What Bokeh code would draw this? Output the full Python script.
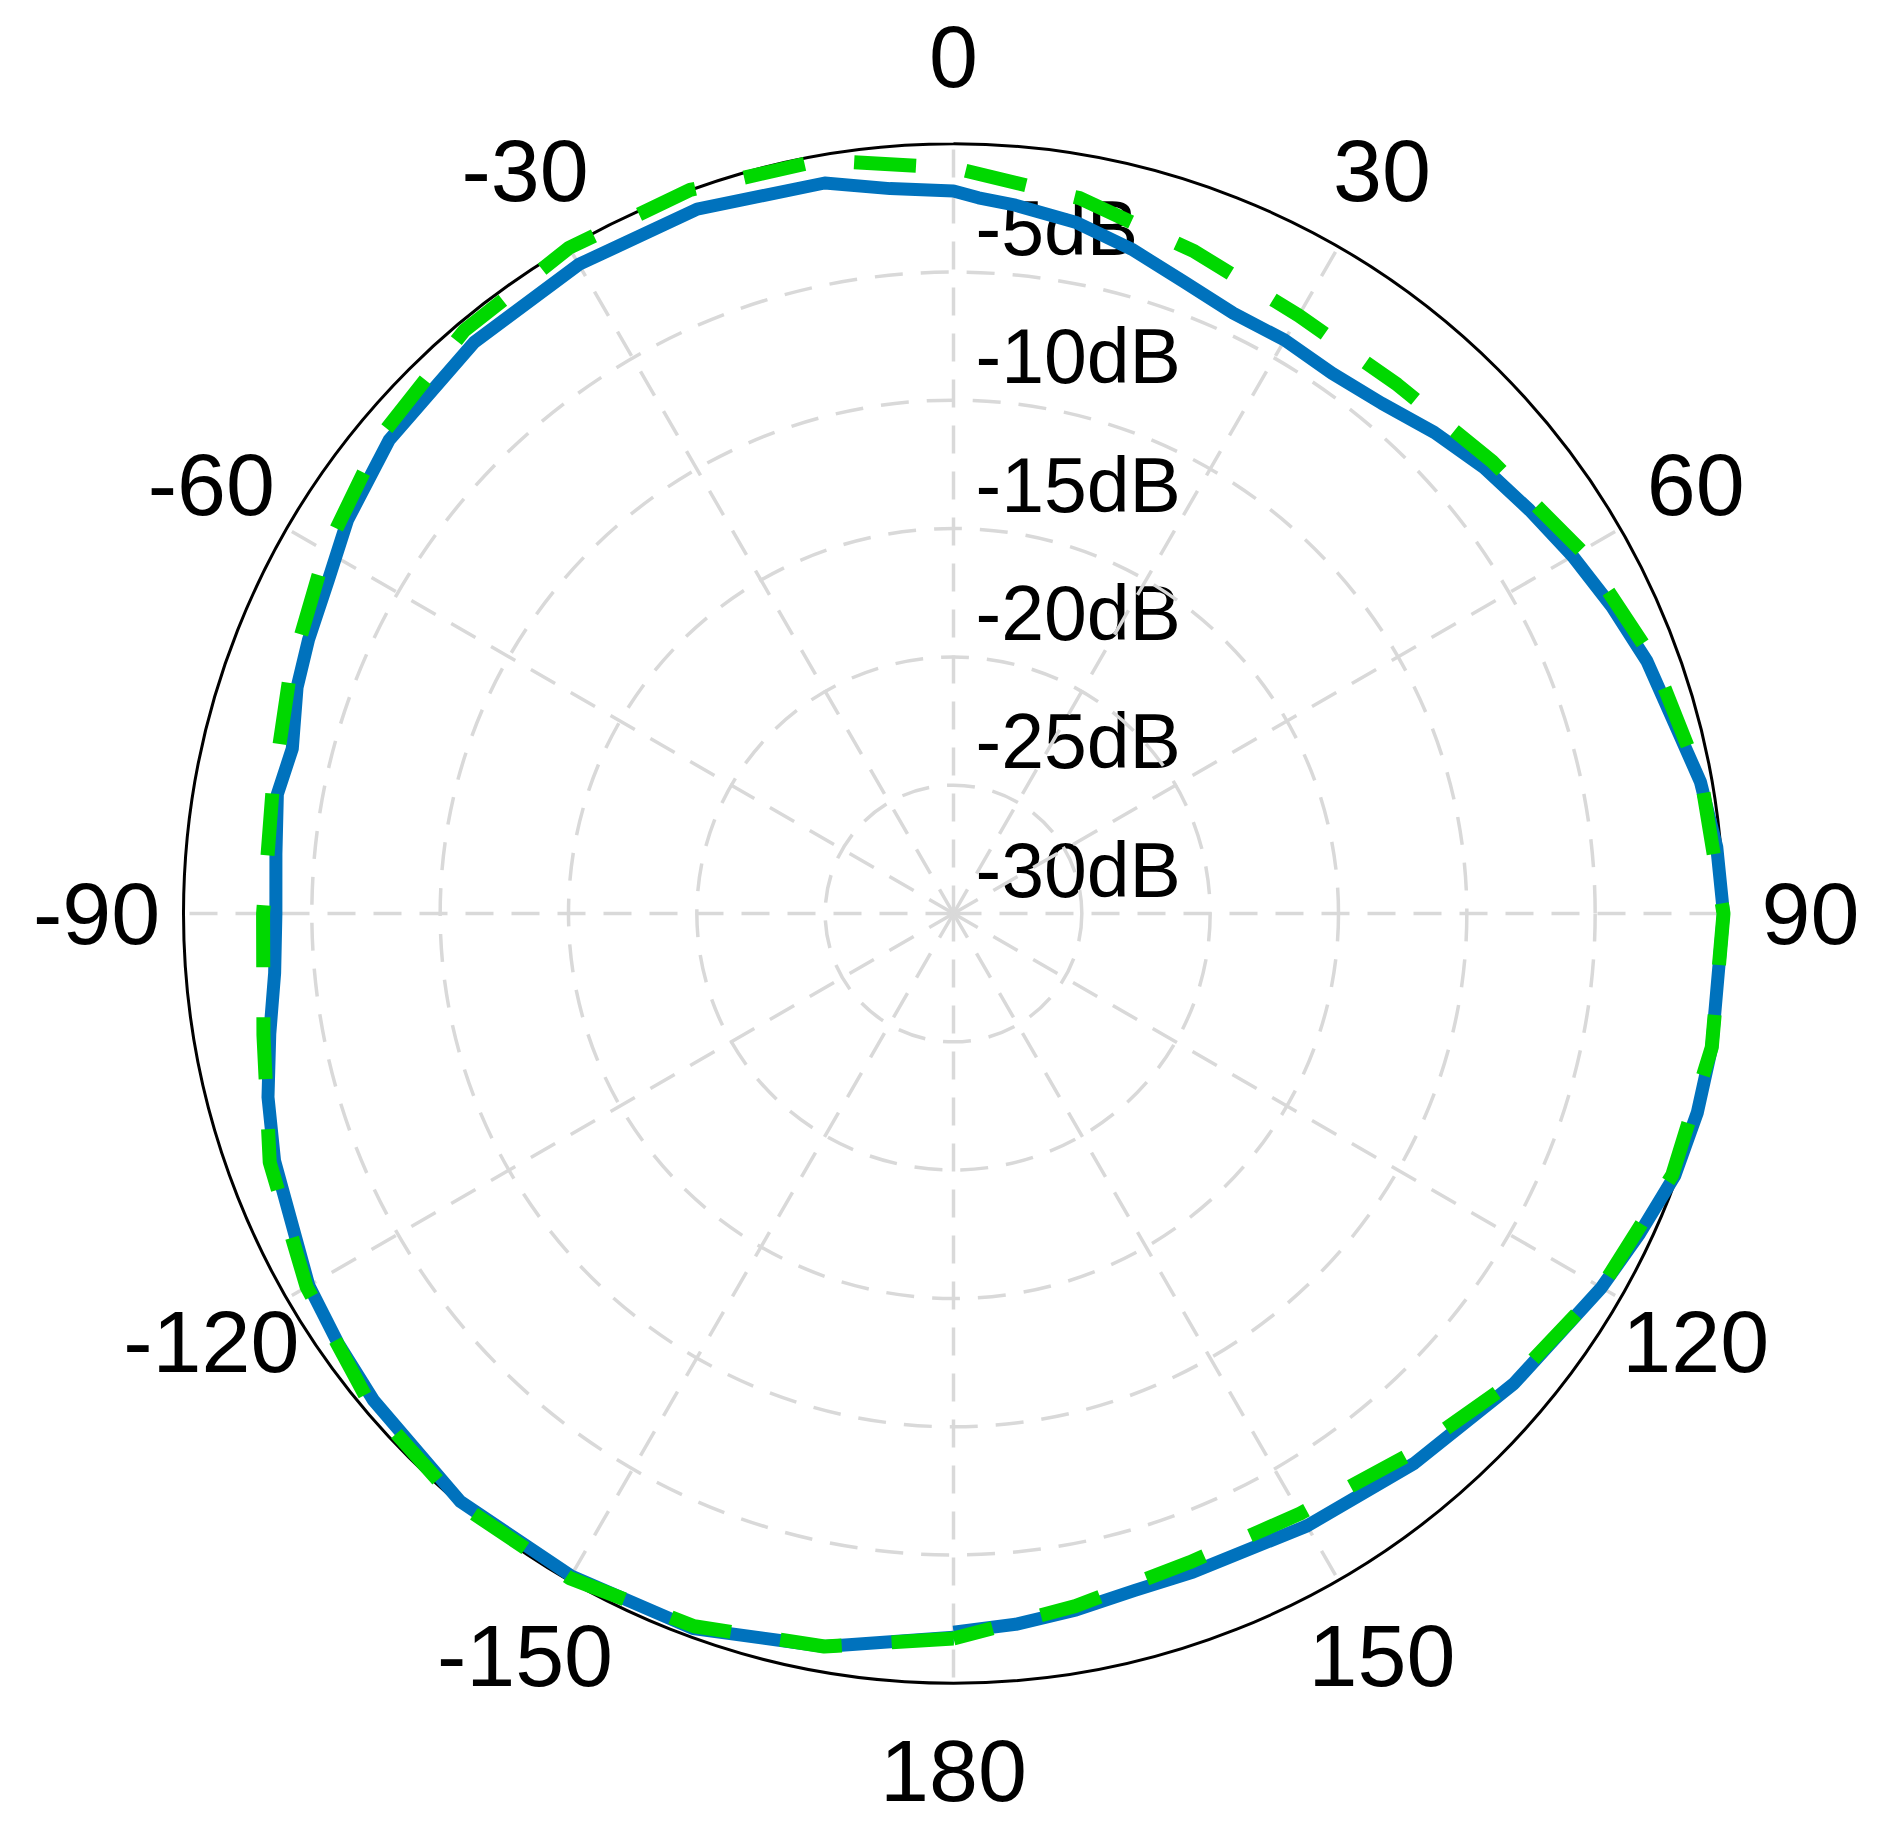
import numpy as np
from bokeh.plotting import figure
from bokeh.models import Range1d, ColumnDataSource
from bokeh.core.properties import value
from bokeh.embed import file_html
from bokeh.resources import INLINE

# ---------------- data ----------------
blue_theta = [-180, -170, -160, -150, -140, -130, -125, -120, -110, -105, -100, -95, -90,
              -85, -80, -76, -71, -67, -62, -57, -50, -40, -30, -20, -10, -5, 0, 2, 5, 10,
              15, 20, 25, 30, 35, 40, 45, 50, 55, 60, 65, 70, 80, 85, 90, 100, 105, 110,
              115, 120, 130, 140, 150, 160, 165, 170, 175, 180]
blue_db = [-1.8, -1.0, -0.35, -0.2, -0.1, -0.5, -0.75, -1.0, -1.85, -2.35, -2.95, -3.45, -3.6,
           -3.5, -3.25, -3.45, -2.95, -2.7, -2.4, -1.85, -1.3, -0.95, -0.8, -0.8, -1.1, -1.65,
           -1.85, -2.1, -2.3, -2.65, -3.2, -3.8, -4.2, -4.2, -4.3, -4.05, -3.5, -3.0, -2.6,
           -2.15, -1.7, -1.25, -0.45, -0.15, 0.0, 0.0, 0.0, -0.1, -0.5, -0.85, -1.5, -2.05,
           -2.45, -2.7, -2.7, -2.45, -2.2, -2.0]

green_theta = [-180, -170, -160, -150, -140, -130, -120, -110, -100, -90, -80, -70, -60,
               -50, -40, -30, -20, -10, 0, 10, 20, 30, 40, 50, 60, 70, 80, 90, 100, 110,
               120, 130, 140, 150, 160, 170, 180]
green_db = [-1.75, -1.0, -0.45, -0.1, 0.0, -0.3, -0.9, -1.65, -2.7, -3.1, -3.05, -2.5, -1.75,
            -0.95, -0.35, -0.05, 0.0, -0.2, -0.95, -1.7, -2.55, -3.1, -3.1, -2.6, -1.75, -1.0,
            -0.4, 0.0, 0.0, -0.2, -0.85, -1.6, -2.45, -3.0, -3.1, -2.6, -1.75]

r_ticks = [-30, -25, -20, -15, -10, -5]
r_tick_labels = ["-30dB", "-25dB", "-20dB", "-15dB", "-10dB", "-5dB"]
theta_ticks = [0, 30, 60, 90, 120, 150, 180, -150, -120, -90, -60, -30]
theta_tick_labels = ["0", "30", "60", "90", "120", "150", "180", "-150", "-120", "-90", "-60", "-30"]
R_MIN, R_MAX = -30, 0

# ---------------- layout ----------------
W, H = 1873, 1831
CX, CY = 953, 913          # centre of the polar axes in canvas pixels
RPIX = 770                 # outer radius in pixels
RSPAN = R_MAX - R_MIN
K = RPIX / RSPAN           # pixels per data unit
FONT = "Liberation Sans"

p = figure(width=W, height=H, output_backend="svg", toolbar_location=None,
           x_range=Range1d(-CX / K, (W - CX) / K),
           y_range=Range1d(-(H - CY) / K, CY / K),
           min_border=0, min_border_left=0, min_border_right=0,
           min_border_top=0, min_border_bottom=0)
p.axis.visible = False
p.grid.visible = False
p.outline_line_color = None
p.background_fill_color = "white"
p.border_fill_color = "white"


def to_xy(theta_deg, db):
    th = np.deg2rad(np.asarray(theta_deg, dtype=float))
    rho = np.asarray(db, dtype=float) - R_MIN
    return rho * np.sin(th), rho * np.cos(th)


# radial tick labels (drawn underneath grid and curves)
lab_src = ColumnDataSource(dict(
    x=[22 / K] * len(r_ticks),
    y=[(t - R_MIN) + 44 / K for t in r_ticks],
    text=r_tick_labels))
p.text(x="x", y="y", text="text", source=lab_src, text_font=value(FONT),
       text_font_size="77px", text_color="black", text_align="left",
       text_baseline="alphabetic")

# grid: rings
GRID = "#d9d9d9"
ring_r = [t - R_MIN for t in r_ticks if t != R_MIN]
p.circle(x=[0] * len(ring_r), y=[0] * len(ring_r), radius=ring_r, fill_color=None,
         line_color=GRID, line_width=3.5, line_dash="28 18")

# grid: spokes
sx, sy = to_xy(theta_ticks, [R_MAX] * len(theta_ticks))
p.segment(x0=[0] * len(sx), y0=[0] * len(sy), x1=list(sx), y1=list(sy),
          line_color=GRID, line_width=3.5, line_dash="28 18")

# outer circle
p.circle(x=[0], y=[0], radius=[RSPAN], fill_color=None, line_color="black", line_width=3)

# theta tick labels
tx, ty = to_xy(theta_ticks, [R_MIN + 857 / K] * len(theta_ticks))
p.text(x=list(tx), y=list(ty), text=theta_tick_labels, text_font=value(FONT),
       text_font_size="88px", text_color="black", text_align="center",
       text_baseline="middle")

# data curves
bx, by = to_xy(blue_theta, blue_db)
p.line(x=bx, y=by, line_color="#0072BD", line_width=13, line_join="round")

gx, gy = to_xy(green_theta, green_db)
p.line(x=gx, y=gy, line_color="#00D800", line_width=14, line_dash="62 50",
       line_cap="butt")

open("out.html", "w").write(file_html(p, INLINE))
